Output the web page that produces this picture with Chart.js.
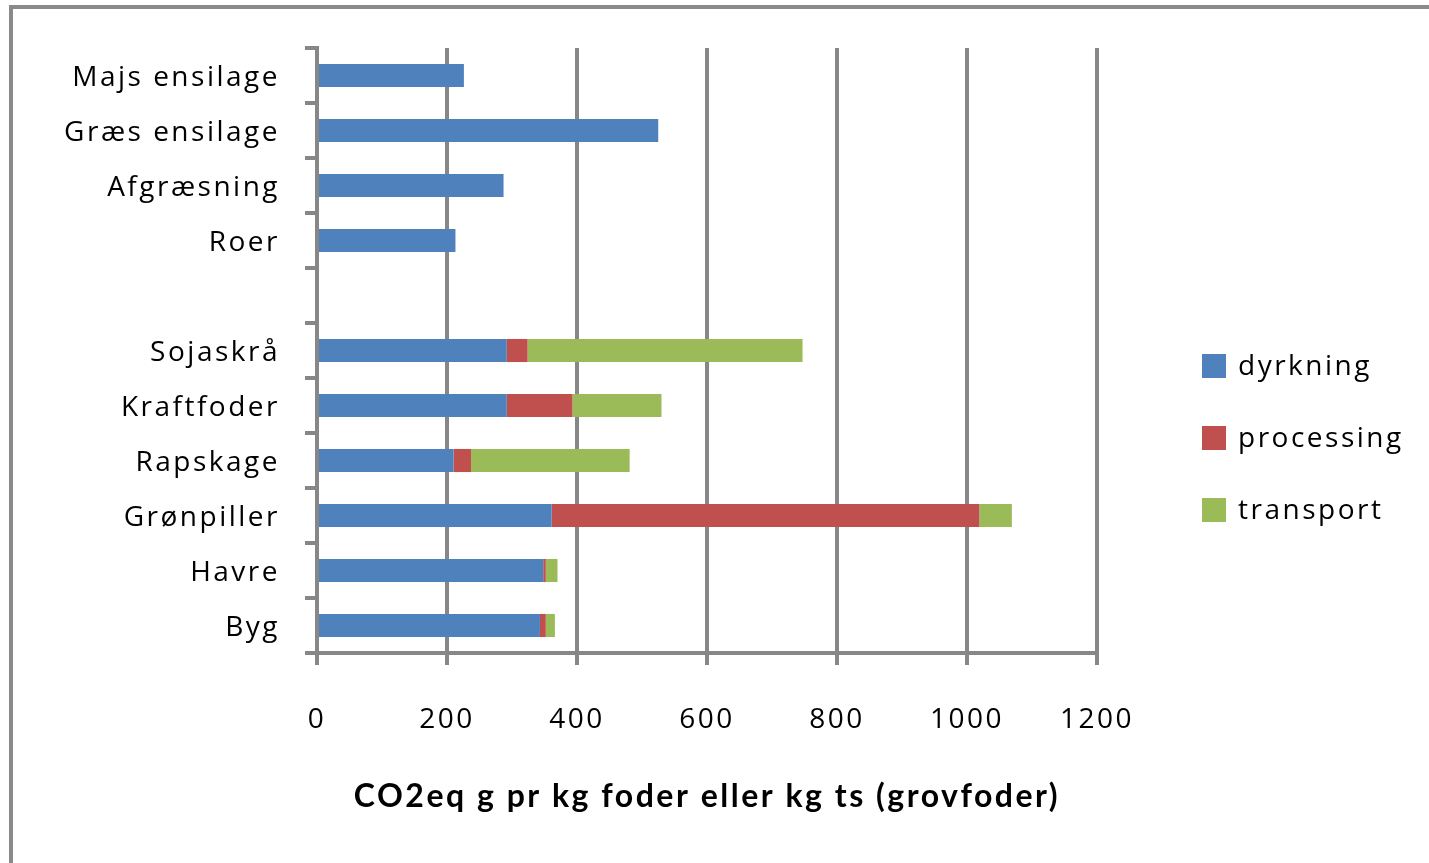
<!DOCTYPE html>
<html>
<head>
<meta charset="utf-8">
<title>CO2eq foder</title>
<script src="https://cdn.jsdelivr.net/npm/chart.js@4.4.1/dist/chart.umd.min.js"></script>
<style>
  html, body { margin: 0; padding: 0; width: 1429px; height: 863px; overflow: hidden; background: #fff; }
  #frame { position: absolute; left: 9px; top: 5px; width: 1500px; height: 1000px;
           border-left: 4px solid #8a8a8a; border-top: 4px solid #8a8a8a; }
  #wrap { position: absolute; left: 0; top: 0; width: 1429px; height: 863px; }
</style>
</head>
<body>
<div id="frame"></div>
<div id="wrap"><canvas id="chart" width="1429" height="863"></canvas></div>
<script>
// Feed types (top to bottom); the empty entry separates roughage from concentrates
const categories = ['Majs ensilage', 'Græs ensilage', 'Afgræsning', 'Roer', '',
                    'Sojaskrå', 'Kraftfoder', 'Rapskage', 'Grønpiller', 'Havre', 'Byg'];

// CO2eq g per kg feed, split by source
const dyrkning   = [226, 525, 287, 213, null, 292, 292, 210, 361, 348, 343];
const processing = [null, null, null, null, null, 32, 101, 27, 658, 4, 9];
const transport  = [null, null, null, null, null, 423, 137, 244, 50, 18, 14];

const seriesNames = ['dyrkning', 'processing', 'transport'];
const xTicks = [0, 200, 400, 600, 800, 1000, 1200];
const axisTitle = 'CO2eq g pr kg foder eller kg ts (grovfoder)';

const GRID = '#878787';
const LABEL_FONT = '"Open Sans", "Lato", sans-serif';
const SPACING = '2.5px';

// Wide glyph tracking for all canvas text
const tracking = {
  id: 'tracking',
  beforeUpdate(chart) { chart.ctx.letterSpacing = SPACING; },
  beforeLayout(chart) { chart.ctx.letterSpacing = SPACING; },
  beforeDraw(chart) { chart.ctx.letterSpacing = SPACING; }
};

// Vertical legend placed to the right of the plot
const sideLegend = {
  id: 'sideLegend',
  afterDraw(chart, args, opts) {
    const ctx = chart.ctx;
    ctx.save();
    ctx.letterSpacing = SPACING;
    ctx.font = '28px ' + LABEL_FONT;
    ctx.textBaseline = 'middle';
    ctx.textAlign = 'left';
    chart.data.datasets.forEach((ds, i) => {
      const cy = opts.top + i * opts.step;
      ctx.fillStyle = ds.backgroundColor;
      ctx.fillRect(opts.left, cy - opts.box / 2, opts.box, opts.box);
      ctx.fillStyle = '#000';
      ctx.fillText(ds.label, opts.left + opts.box + 12, cy + 1);
    });
    ctx.restore();
  }
};

const colors = ['#4F81BD', '#C0504D', '#9BBB59'];
const seriesData = [dyrkning, processing, transport];

new Chart(document.getElementById('chart'), {
  type: 'bar',
  data: {
    labels: categories,
    datasets: seriesNames.map((name, i) => ({
      label: name,
      data: seriesData[i],
      backgroundColor: colors[i],
      borderWidth: 0,
      barPercentage: 0.42,
      categoryPercentage: 1.0
    }))
  },
  options: {
    indexAxis: 'y',
    responsive: false,
    animation: false,
    devicePixelRatio: 1,
    layout: { padding: { left: 0, top: 48, right: 332, bottom: 0 } },
    plugins: {
      legend: { display: false },
      tooltip: { enabled: false },
      sideLegend: { left: 1202, top: 366, step: 72, box: 24 }
    },
    scales: {
      x: {
        stacked: true,
        min: xTicks[0],
        max: xTicks[xTicks.length - 1],
        afterFit(s) { s.height = 210; },
        afterBuildTicks(s) { s.ticks = xTicks.map(v => ({ value: v })); },
        grid: { color: GRID, lineWidth: 4, tickLength: 12, drawOnChartArea: true },
        border: { color: GRID, width: 4 },
        ticks: {
          color: '#000',
          padding: 38,
          maxRotation: 0,
          callback: v => String(v),
          font: { family: LABEL_FONT, size: 28 }
        },
        title: {
          display: true,
          text: axisTitle,
          color: '#000',
          font: { family: '"Lato", "Open Sans", sans-serif', size: 32, weight: 'bold' },
          padding: { top: 0, bottom: 47 }
        }
      },
      y: {
        stacked: true,
        afterFit(s) { s.width = 317; },
        grid: { color: GRID, lineWidth: 4, tickLength: 12, drawOnChartArea: false, offset: true },
        border: { color: GRID, width: 4 },
        ticks: {
          color: '#000',
          padding: 25,
          labelOffset: 3,
          autoSkip: false,
          font: { family: LABEL_FONT, size: 28 }
        }
      }
    }
  },
  plugins: [tracking, sideLegend]
});
</script>
</body>
</html>
